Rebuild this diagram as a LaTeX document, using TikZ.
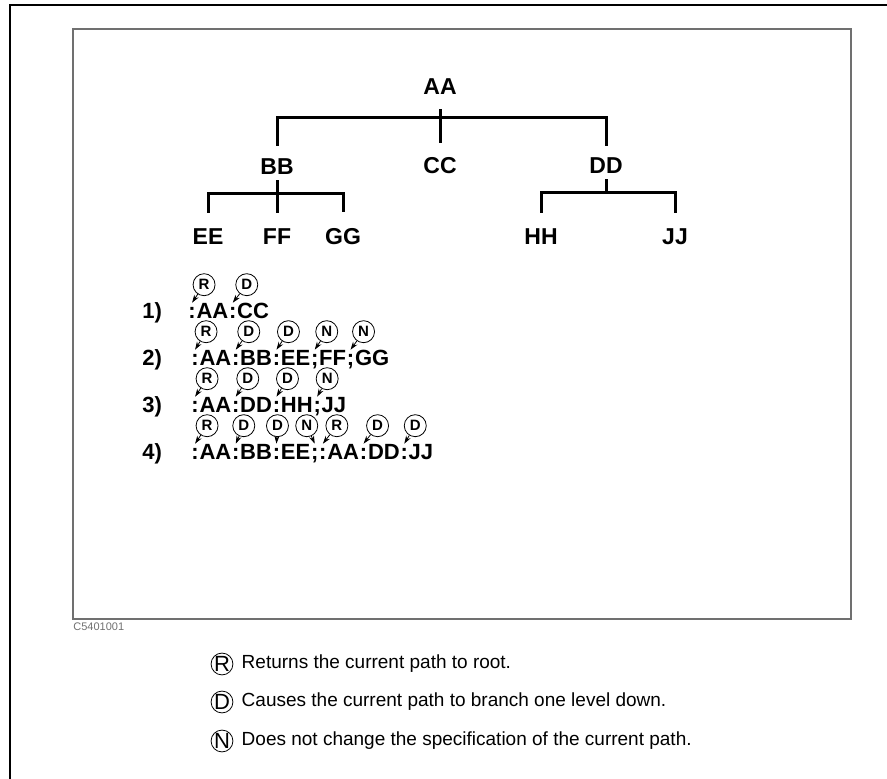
\documentclass[tikz,border=0pt]{standalone}
\usepackage{fontspec}
\setmainfont{Liberation Sans}
\usetikzlibrary{positioning,arrows.meta}
\definecolor{framegray}{HTML}{707070}

\tikzset{
  lbl/.style={font=\bfseries\fontsize{11.5}{13}\selectfont, inner sep=0pt},
  branch/.style={line width=1.5pt},
  seg/.style={font=\bfseries\fontsize{11}{13}\selectfont, inner sep=0pt, text height=7.9pt, text depth=0pt},
  tag/.style={circle, draw, line width=0.4pt, inner sep=0pt, minimum size=11pt, font=\bfseries\fontsize{7.5}{8}\selectfont},
  ptr/.style={line width=0.4pt, -{Stealth[length=4pt,width=2.6pt]}},
  key/.style={circle, draw, line width=0.4pt, inner sep=0pt, minimum size=10.5pt, font=\fontsize{11}{11}\selectfont},
  keytxt/.style={font=\fontsize{9.5}{11}\selectfont, inner sep=0pt}
}

\begin{document}
\begin{tikzpicture}[x=0.5pt, y=-0.5pt]
  \useasboundingbox (0,0) rectangle (887,779);
  \draw[line width=1.2pt] (10,779) -- (10,5) -- (887,5);
  \draw[framegray, line width=0.7pt] (73,29) rectangle (851,619);
  \node[anchor=north west, inner sep=0pt, text=framegray, font=\fontsize{5.5}{6}\selectfont] (code) at (73,622) {C5401001};

  % tree
  \node[lbl] (aa) at (440,87) {AA};
  \node[lbl] (bb) at (277,167) {BB};
  \node[lbl] (cc) at (440,166) {CC};
  \node[lbl] (dd) at (606,166) {DD};
  \node[lbl] (ee) at (208,237) {EE};
  \node[lbl] (ff) at (277,237) {FF};
  \node[lbl] (gg) at (343,237) {GG};
  \node[lbl] (hh) at (541,237) {HH};
  \node[lbl] (jj) at (675,237) {JJ};
  \coordinate (aajn) at (440,118);
  \coordinate (bbjn) at (277,194);
  \coordinate (ddjn) at (606,193);
  \draw[branch] ([yshift=6.5pt]bb.north) |- (aajn) -| ([yshift=6pt]dd.north);
  \draw[branch] ([yshift=-7pt]aa.south) -- ([yshift=7pt]cc.north);
  \draw[branch] ([yshift=-2.5pt]bb.south) -- ([yshift=8pt]ff.north);
  \draw[branch] ([yshift=8pt]ee.north) |- (bbjn) -| ([yshift=8pt]gg.north);
  \draw[branch] ([yshift=-2.5pt]dd.south) -- (ddjn);
  \draw[branch] ([yshift=8pt]hh.north) |- (ddjn) -| ([yshift=8pt]jj.north);

  % 1) :AA:CC
  \node[seg, anchor=west] (n1) at (142,311) {1)};
  \node[seg, anchor=west] (s1a) at (188,311) {:};
  \node[seg, right=0pt of s1a] (w1a) {AA};
  \node[seg, right=0pt of w1a] (s1b) {:};
  \node[seg, right=0pt of s1b] (w1b) {CC};
  \node[tag] (t1a) at ([shift={(12,-18)}]s1a.north) {R};
  \node[tag] (t1b) at ([shift={(14,-18)}]s1b.north) {D};
  \draw[ptr] (t1a) -- (s1a.north);
  \draw[ptr] (t1b) -- (s1b.north);

  % 2) :AA:BB:EE;FF;GG
  \node[seg, anchor=west] (n2) at (142,358) {2)};
  \node[seg, anchor=west] (s2a) at (191,358) {:};
  \node[seg, right=0pt of s2a] (w2a) {AA};
  \node[seg, right=0pt of w2a] (s2b) {:};
  \node[seg, right=0pt of s2b] (w2b) {BB};
  \node[seg, right=0pt of w2b] (s2c) {:};
  \node[seg, right=0pt of s2c] (w2c) {EE};
  \node[seg, right=0pt of w2c] (s2d) {;};
  \node[seg, right=0pt of s2d] (w2d) {FF};
  \node[seg, right=0pt of w2d] (s2e) {;};
  \node[seg, right=0pt of s2e] (w2e) {GG};
  \node[tag] (t2a) at ([shift={(11,-18)}]s2a.north) {R};
  \node[tag] (t2b) at ([shift={(13,-18)}]s2b.north) {D};
  \node[tag] (t2c) at ([shift={(12,-18)}]s2c.north) {D};
  \node[tag] (t2d) at ([shift={(12,-18)}]s2d.north) {N};
  \node[tag] (t2e) at ([shift={(13,-18)}]s2e.north) {N};
  \foreach \s in {a,b,c,d,e} \draw[ptr] (t2\s) -- (s2\s.north);

  % 3) :AA:DD:HH;JJ
  \node[seg, anchor=west] (n3) at (142,405) {3)};
  \node[seg, anchor=west] (s3a) at (191,405) {:};
  \node[seg, right=0pt of s3a] (w3a) {AA};
  \node[seg, right=0pt of w3a] (s3b) {:};
  \node[seg, right=0pt of s3b] (w3b) {DD};
  \node[seg, right=0pt of w3b] (s3c) {:};
  \node[seg, right=0pt of s3c] (w3c) {HH};
  \node[seg, right=0pt of w3c] (s3d) {;};
  \node[seg, right=0pt of s3d] (w3d) {JJ};
  \node[tag] (t3a) at ([shift={(12,-18)}]s3a.north) {R};
  \node[tag] (t3b) at ([shift={(12,-18)}]s3b.north) {D};
  \node[tag] (t3c) at ([shift={(11,-18)}]s3c.north) {D};
  \node[tag] (t3d) at ([shift={(10,-18)}]s3d.north) {N};
  \foreach \s in {a,b,c,d} \draw[ptr] (t3\s) -- (s3\s.north);

  % 4) :AA:BB:EE;:AA:DD:JJ
  \node[seg, anchor=west] (n4) at (142,452) {4)};
  \node[seg, anchor=west] (s4a) at (191,452) {:};
  \node[seg, right=0pt of s4a] (w4a) {AA};
  \node[seg, right=0pt of w4a] (s4b) {:};
  \node[seg, right=0pt of s4b] (w4b) {BB};
  \node[seg, right=0pt of w4b] (s4c) {:};
  \node[seg, right=0pt of s4c] (w4c) {EE};
  \node[seg, right=0pt of w4c] (s4d) {;};
  \node[seg, right=0pt of s4d] (s4e) {:};
  \node[seg, right=0pt of s4e] (w4e) {AA};
  \node[seg, right=0pt of w4e] (s4f) {:};
  \node[seg, right=0pt of s4f] (w4f) {DD};
  \node[seg, right=0pt of w4f] (s4g) {:};
  \node[seg, right=0pt of s4g] (w4g) {JJ};
  \node[tag] (t4a) at ([shift={(12,-18)}]s4a.north) {R};
  \node[tag] (t4b) at ([shift={(8,-18)}]s4b.north) {D};
  \node[tag] (t4c) at ([shift={(1,-18)}]s4c.north) {D};
  \node[tag] (t4d) at ([shift={(-8,-18)}]s4d.north) {N};
  \node[tag] (t4e) at ([shift={(14,-18)}]s4e.north) {R};
  \node[tag] (t4f) at ([shift={(14,-18)}]s4f.north) {D};
  \node[tag] (t4g) at ([shift={(11,-18)}]s4g.north) {D};
  \foreach \s in {a,b,c,d,e,f,g} \draw[ptr] (t4\s) -- (s4\s.north);

  % legend
  \node[key] (kr) at (222,664) {R};
  \node[keytxt, right=4pt of kr] (krt) {Returns the current path to root.};
  \node[key] (kd) at (222,702) {D};
  \node[keytxt, right=4pt of kd] (kdt) {Causes the current path to branch one level down.};
  \node[key] (kn) at (222,741) {N};
  \node[keytxt, right=4pt of kn] (knt) {Does not change the specification of the current path.};
\end{tikzpicture}
\end{document}
